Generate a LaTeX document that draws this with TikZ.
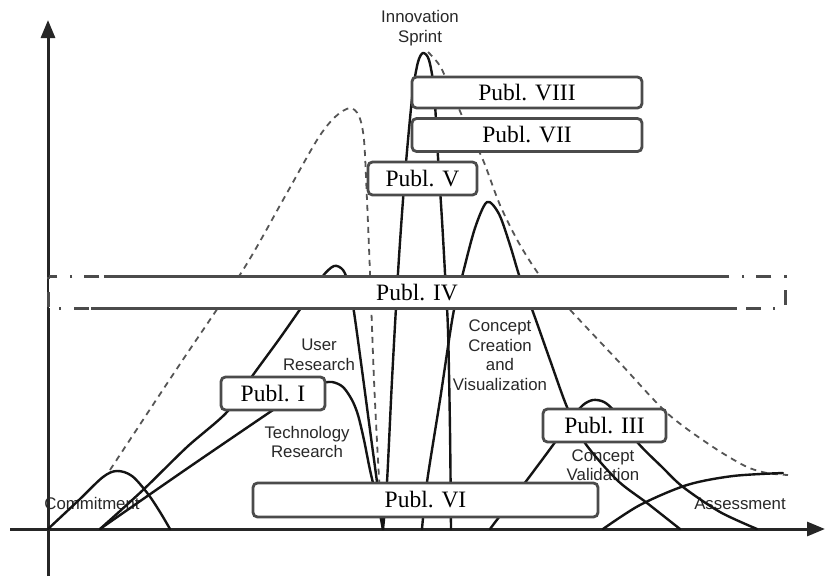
\documentclass[tikz,border=0pt]{standalone}
\usepackage{fontspec}
\newfontfamily\labelfont{Liberation Sans}
\newfontfamily\pubfont{Liberation Serif}
\usetikzlibrary{arrows.meta}
\definecolor{boxgray}{RGB}{75,75,75}
\definecolor{labelgray}{RGB}{40,40,40}
\definecolor{dashgray}{RGB}{85,85,85}
\begin{document}
\begin{tikzpicture}[x=1pt,y=-1pt,
 curve/.style={line width=2.4pt, black!92, line join=round, line cap=round},
 dashcurve/.style={line width=1.8pt, dashgray, dash pattern=on 6pt off 5pt},
 axisline/.style={line width=3pt, black!85, -{Triangle[length=18pt,width=14pt]}},
 pbox/.style={draw=boxgray, line width=2.8pt, rounded corners=4.5pt, fill=white, font=\pubfont\fontsize{23.5}{26}\selectfont, inner sep=0pt},
 pboxline/.style={draw=boxgray, line width=2.8pt},
 phase/.style={font=\labelfont\fontsize{16.8}{19.5}\selectfont, text=labelgray, align=center, inner sep=0pt},
]
\useasboundingbox[fill=white] (0,0) rectangle (825,576);

% axes
\coordinate (ybot) at (48,576);
\coordinate (ytop) at (48,20);
\coordinate (xleft) at (10,529);
\coordinate (xright) at (825,529);
\draw[axisline] (ybot) -- (ytop);
\draw[axisline] (xleft) -- (xright);

% phase labels
\node[phase] (sprint) at (420,28) {Innovation\\Sprint};
\node[phase] (user) at (319,355) {User\\Research};
\node[phase] (tech) at (307,442) {Technology\\Research};
\node[phase] (creation) at (500,355) {Concept\\Creation\\and\\Visualization};
\node[phase] (valid) at (603,465) {Concept\\Validation};
\node[phase] (commit) at (92,503) {Commitment};
\node[phase] (assess) at (740,504) {Assessment};

% dashed envelope
\draw[dashcurve] plot[smooth, tension=0.5] coordinates {(110,470) (176,370) (243,270) (283,200) (317,140) (335,117) (350,108) (359,116) (364,140) (367,200) (370,273) (374,380) (378,460) (382,527)};
\draw[dashcurve] plot[smooth, tension=0.5] coordinates {(428,52) (440,66) (452,92) (463,118) (483,160) (500,205) (520,245) (543,280) (573,313) (620,363) (667,413) (710,445) (745,466) (767,473) (788,475)};

% curves
\draw[curve] plot[smooth, tension=0.55] coordinates {(48,529) (80,499) (103,477) (117,471) (132,476) (148,494) (160,512) (170,529)};
\draw[curve] plot[smooth, tension=0.5] coordinates {(100,529) (143,490) (187,447) (227,412) (253,375) (280,338) (303,305) (322,277) (334,266) (343,270) (349,285) (354,312) (362,370) (370,430) (377,482) (383,529)};
\draw[curve] plot[smooth, tension=0.5] coordinates {(100,529) (185,470) (270,412) (300,392) (318,384) (332,382) (343,387) (352,400) (358,415) (364,440) (370,470) (377,500) (383,529)};
\draw[curve] plot[smooth, tension=0.5] coordinates {(383,529) (387,482) (392,380) (398,273) (403,200) (408,140) (413,90) (418,62) (423,53) (429,60) (434,90) (438,157) (442,220) (445,273) (448,330) (450,430) (451,529)};
\draw[curve] plot[smooth, tension=0.5] coordinates {(422,529) (427,482) (440,400) (453,315) (463,273) (475,228) (487,202) (499,214) (510,245) (520,278) (533,312) (550,360) (567,407) (585,443) (617,480) (647,503) (680,529)};
\draw[curve] plot[smooth, tension=0.5] coordinates {(490,529) (527,480) (553,445) (572,418) (583,405) (593,400) (604,402) (615,412) (638,443) (662,467) (683,487) (720,512) (757,529)};
\draw[curve] plot[smooth, tension=0.5] coordinates {(603,529) (640,505) (687,485) (733,476) (783,473)};

% publication boxes
\node[pbox, minimum width=230pt, minimum height=31pt] (p8) at (527,92.5) {Publ. VIII};
\node[pbox, minimum width=230pt, minimum height=33pt] (p7) at (527,135) {Publ. VII};
\node[pbox, minimum width=109pt, minimum height=33pt] (p5) at (422.5,178.5) {Publ. V};
\node[pbox, minimum width=104pt, minimum height=33pt] (p1) at (273,393.5) {Publ. I};
\node[pbox, minimum width=123pt, minimum height=33pt] (p3) at (604.5,425.5) {Publ. III};
\node[pbox, minimum width=345pt, minimum height=34pt] (p6) at (425.5,500) {Publ. VI};

\node[fill=white, inner sep=0pt, minimum width=736pt, minimum height=31pt, font=\pubfont\fontsize{23.5}{26}\selectfont] (p4) at (417,292.5) {Publ. IV};
\draw[pboxline, dash pattern=on 2pt off 13pt on 15pt off 12pt] (p4.north west) rectangle (p4.south east);
\draw[pboxline] ([xshift=55pt]p4.north west) -- ([xshift=-59pt]p4.north east);
\draw[pboxline] ([xshift=42pt]p4.south west) -- ([xshift=-48pt]p4.south east);
\end{tikzpicture}
\end{document}
